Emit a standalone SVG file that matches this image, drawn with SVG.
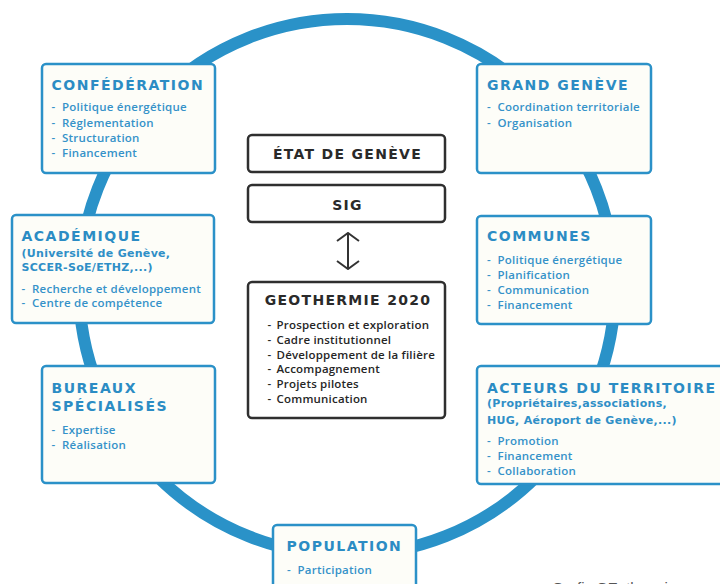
<svg xmlns="http://www.w3.org/2000/svg" width="720" height="584" viewBox="0 0 720 584">
  <defs>
    <style>
      .box { fill: #fdfdf8; stroke: #2b91c8; stroke-width: 2.5; }
      .dbox { fill: #ffffff; stroke: #2f2f2f; stroke-width: 2.5; }
      .title { font-family: "DejaVu Sans", sans-serif; font-weight: bold; font-size: 14px; letter-spacing: 1.5px; fill: #2b8cc4; }
      .sub { font-family: "DejaVu Sans", sans-serif; font-weight: bold; font-size: 11px; letter-spacing: 0.3px; fill: #2f8fc7; }
      .item { font-family: "Open Sans", "DejaVu Sans", sans-serif; font-weight: 600; font-size: 11.5px; letter-spacing: 0.25px; fill: #3592c9; }
      .dtitle { font-family: "DejaVu Sans", sans-serif; font-weight: bold; font-size: 14px; letter-spacing: 1.3px; fill: #2a2a2a; text-anchor: middle; }
      .ditem { font-family: "Open Sans", "DejaVu Sans", sans-serif; font-weight: 600; font-size: 11.5px; letter-spacing: 0.2px; fill: #262626; }
      .ring { fill: none; stroke: #2a92c8; stroke-width: 12; }
      .link { fill: none; stroke: #333333; stroke-width: 2; }
      .caption { font-family: "Liberation Sans", sans-serif; font-size: 15px; fill: #555555; }
    </style>
    <marker id="chev" viewBox="0 0 12 24" refX="11" refY="12" markerWidth="12" markerHeight="24" markerUnits="userSpaceOnUse" orient="auto-start-reverse">
      <path d="M3,1 L11,12 L3,23" fill="none" stroke="#333333" stroke-width="2"/>
    </marker>
  </defs>

  <rect width="720" height="584" fill="#ffffff"/>

  <!-- ring linking the partners -->
  <g id="ring">
    <circle class="ring" cx="347" cy="287" r="268"/>
  </g>

  <!-- connectors -->
  <g id="connectors">
    <line class="link" x1="348" y1="233" x2="348" y2="269" marker-start="url(#chev)" marker-end="url(#chev)"/>
  </g>

  <g id="confederation">
    <rect class="box" x="42" y="64" width="173" height="109" rx="4"/>
    <text class="title" x="51.5" y="89.5">CONFÉDÉRATION</text>
    <text class="item"><tspan x="51.5" y="111">-</tspan><tspan x="62" y="111">Politique énergétique</tspan></text>
    <text class="item"><tspan x="51.5" y="126.5">-</tspan><tspan x="62" y="126.5">Réglementation</tspan></text>
    <text class="item"><tspan x="51.5" y="142">-</tspan><tspan x="62" y="142">Structuration</tspan></text>
    <text class="item"><tspan x="51.5" y="157">-</tspan><tspan x="62" y="157">Financement</tspan></text>
  </g>

  <g id="grand-geneve">
    <rect class="box" x="477" y="64" width="174" height="109" rx="4"/>
    <text class="title" x="487" y="89.5">GRAND GENÈVE</text>
    <text class="item"><tspan x="487" y="111">-</tspan><tspan x="497.5" y="111">Coordination territoriale</tspan></text>
    <text class="item"><tspan x="487" y="127">-</tspan><tspan x="497.5" y="127">Organisation</tspan></text>
  </g>

  <g id="academique">
    <rect class="box" x="12" y="215" width="202" height="108" rx="4"/>
    <text class="title" x="21.5" y="241">ACADÉMIQUE</text>
    <text class="sub" x="21.5" y="257">(Université de Genève,</text>
    <text class="sub" x="21.5" y="271">SCCER-SoE/ETHZ,...)</text>
    <text class="item"><tspan x="21.5" y="292.5">-</tspan><tspan x="32" y="292.5">Recherche et développement</tspan></text>
    <text class="item"><tspan x="21.5" y="307">-</tspan><tspan x="32" y="307">Centre de compétence</tspan></text>
  </g>

  <g id="communes">
    <rect class="box" x="477" y="216" width="174" height="108" rx="4"/>
    <text class="title" x="487" y="241">COMMUNES</text>
    <text class="item"><tspan x="487" y="263.5">-</tspan><tspan x="497.5" y="263.5">Politique énergétique</tspan></text>
    <text class="item"><tspan x="487" y="278.5">-</tspan><tspan x="497.5" y="278.5">Planification</tspan></text>
    <text class="item"><tspan x="487" y="293.5">-</tspan><tspan x="497.5" y="293.5">Communication</tspan></text>
    <text class="item"><tspan x="487" y="308.5">-</tspan><tspan x="497.5" y="308.5">Financement</tspan></text>
  </g>

  <g id="bureaux">
    <rect class="box" x="42" y="366" width="173" height="117" rx="4"/>
    <text class="title" x="51.5" y="393">BUREAUX</text>
    <text class="title" x="51.5" y="411">SPÉCIALISÉS</text>
    <text class="item"><tspan x="51.5" y="433.5">-</tspan><tspan x="62" y="433.5">Expertise</tspan></text>
    <text class="item"><tspan x="51.5" y="448.5">-</tspan><tspan x="62" y="448.5">Réalisation</tspan></text>
  </g>

  <g id="acteurs">
    <rect class="box" x="477" y="366" width="262" height="118" rx="4"/>
    <text class="title" x="487" y="392.5">ACTEURS DU TERRITOIRE</text>
    <text class="sub" x="487" y="407">(Propriétaires,associations,</text>
    <text class="sub" x="487" y="423.5">HUG, Aéroport de Genève,...)</text>
    <text class="item"><tspan x="487" y="445">-</tspan><tspan x="497.5" y="445">Promotion</tspan></text>
    <text class="item"><tspan x="487" y="460">-</tspan><tspan x="497.5" y="460">Financement</tspan></text>
    <text class="item"><tspan x="487" y="474.5">-</tspan><tspan x="497.5" y="474.5">Collaboration</tspan></text>
  </g>

  <g id="population">
    <rect class="box" x="273" y="525" width="143" height="80" rx="4"/>
    <text class="title" x="286.5" y="551">POPULATION</text>
    <text class="item"><tspan x="287" y="573.5">-</tspan><tspan x="297.5" y="573.5">Participation</tspan></text>
  </g>

  <g id="etat-de-geneve">
    <rect class="dbox" x="248" y="135" width="197" height="37" rx="4"/>
    <text class="dtitle" x="347.5" y="158.5">ÉTAT DE GENÈVE</text>
  </g>

  <g id="sig">
    <rect class="dbox" x="248" y="185" width="197" height="37" rx="4"/>
    <text class="dtitle" x="347.5" y="209.5">SIG</text>
  </g>

  <g id="geothermie-2020">
    <rect class="dbox" x="248" y="282" width="197" height="136" rx="4"/>
    <text class="dtitle" x="348" y="304.5">GEOTHERMIE 2020</text>
    <text class="ditem"><tspan x="267.5" y="328.5">-</tspan><tspan x="276.5" y="328.5">Prospection et exploration</tspan></text>
    <text class="ditem"><tspan x="267.5" y="343.5">-</tspan><tspan x="276.5" y="343.5">Cadre institutionnel</tspan></text>
    <text class="ditem"><tspan x="267.5" y="358.5">-</tspan><tspan x="276.5" y="358.5">Développement de la filière</tspan></text>
    <text class="ditem"><tspan x="267.5" y="373">-</tspan><tspan x="276.5" y="373">Accompagnement</tspan></text>
    <text class="ditem"><tspan x="267.5" y="387.5">-</tspan><tspan x="276.5" y="387.5">Projets pilotes</tspan></text>
    <text class="ditem"><tspan x="267.5" y="402.5">-</tspan><tspan x="276.5" y="402.5">Communication</tspan></text>
  </g>

  <text class="caption" x="552" y="593">Grafic GEothermie</text>
</svg>
